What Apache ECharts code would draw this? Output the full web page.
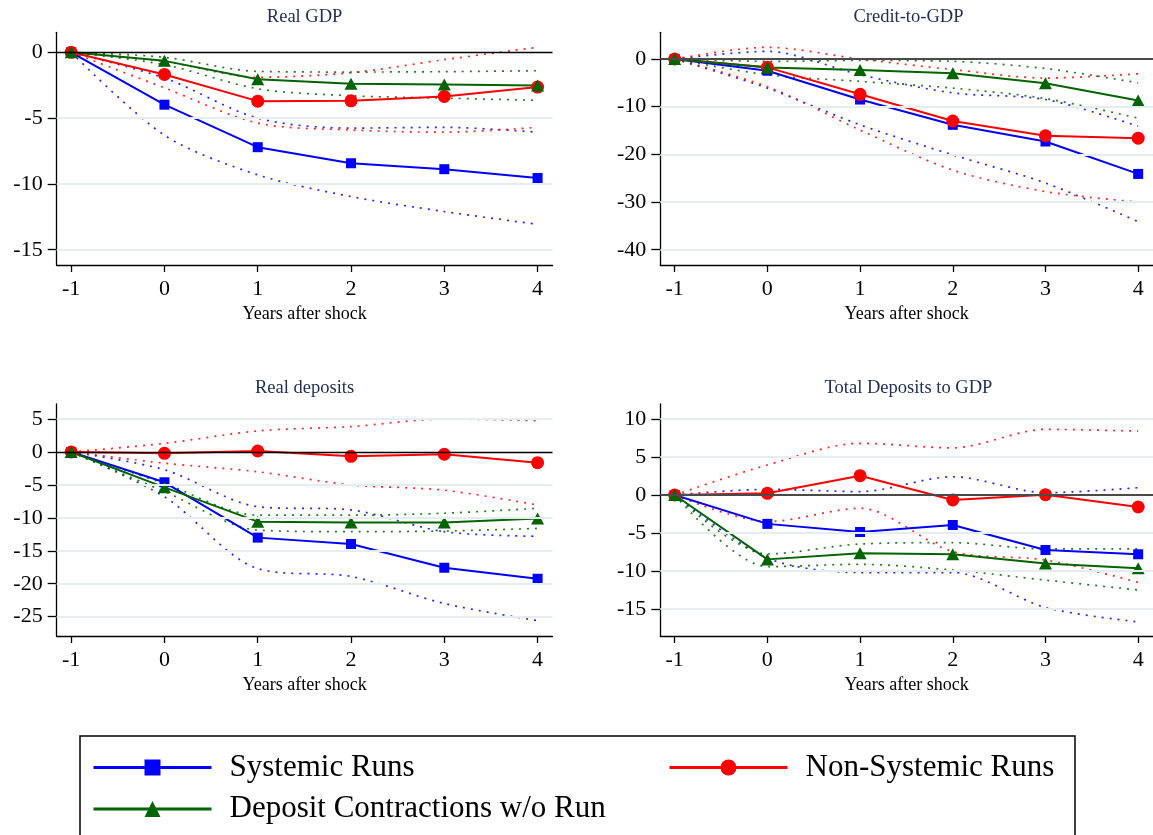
<!DOCTYPE html>
<html>
<head>
<meta charset="utf-8">
<title>Deposit runs: impulse responses</title>
<script src="https://cdn.jsdelivr.net/npm/echarts@6/dist/echarts.min.js"></script>
<style>
  html, body { margin: 0; padding: 0; background: #ffffff; }
  #chart { width: 1153px; height: 835px; }
</style>
</head>
<body>
<div id="chart"></div>
<script>
// Horizon (years relative to the shock)
const years = [-1, 0, 1, 2, 3, 4];

// Real GDP
const gdpSystemic      = [0, -3.98, -7.21, -8.43, -8.88, -9.55];
const gdpSystemicHi    = [0, -1.95, -5.00, -5.76, -5.70, -6.07];
const gdpSystemicLo    = [0, -6.30, -9.31, -10.96, -12.10, -13.07];
const gdpNonSystemic   = [0, -1.68, -3.71, -3.69, -3.35, -2.64];
const gdpNonSystemicHi = [0, -0.70, -1.90, -1.55, -0.56, 0.38];
const gdpNonSystemicLo = [0, -2.70, -5.38, -5.90, -6.07, -5.70];
const gdpNoRun         = [0, -0.65, -2.05, -2.38, -2.44, -2.52];
const gdpNoRunHi       = [0, -0.38, -1.45, -1.50, -1.47, -1.40];
const gdpNoRunLo       = [0, -0.94, -2.77, -3.30, -3.48, -3.65];
const gdpTicks = [0, -5, -10, -15];

// Credit-to-GDP
const creditSystemic      = [0, -2.45, -8.50, -13.80, -17.30, -24.10];
const creditSystemicHi    = [0, 1.60, -3.30, -7.10, -8.50, -14.10];
const creditSystemicLo    = [0, -6.10, -13.80, -20.10, -26.00, -34.10];
const creditNonSystemic   = [0, -1.75, -7.40, -13.00, -16.10, -16.60];
const creditNonSystemicHi = [0, 2.45, 0.00, -2.20, -4.00, -3.10];
const creditNonSystemicLo = [0, -5.80, -14.90, -23.30, -27.80, -30.00];
const creditNoRun         = [0, -1.80, -2.30, -3.00, -5.10, -8.70];
const creditNoRunHi       = [0, -0.50, -0.30, -0.50, -2.00, -5.00];
const creditNoRunLo       = [0, -3.30, -4.70, -6.10, -8.30, -12.40];
const creditTicks = [0, -10, -20, -30, -40];

// Real deposits
const depSystemic      = [0, -4.60, -13.00, -13.97, -17.57, -19.24];
const depSystemicHi    = [0, -2.70, -8.30, -8.80, -12.10, -12.80];
const depSystemicLo    = [0, -6.80, -17.70, -18.90, -23.00, -25.60];
const depNonSystemic   = [0, -0.20, 0.15, -0.66, -0.35, -1.62];
const depNonSystemicHi = [0, 1.30, 3.20, 3.85, 5.00, 4.76];
const depNonSystemicLo = [0, -1.70, -3.00, -5.00, -5.80, -8.05];
const depNoRun         = [0, -5.37, -10.58, -10.70, -10.70, -10.08];
const depNoRunHi       = [0, -4.80, -9.60, -9.60, -9.30, -8.55];
const depNoRunLo       = [0, -6.00, -11.85, -12.10, -12.00, -11.60];
const depTicks = [5, 0, -5, -10, -15, -20, -25];

// Total deposits to GDP
const tdgSystemic      = [0, -3.80, -4.87, -3.95, -7.24, -7.80];
const tdgSystemicHi    = [0, 0.75, 0.44, 2.40, 0.30, 0.96];
const tdgSystemicLo    = [0, -8.30, -10.20, -10.20, -14.80, -16.70];
const tdgNonSystemic   = [0, 0.22, 2.54, -0.66, 0.04, -1.58];
const tdgNonSystemicHi = [0, 3.95, 6.80, 6.20, 8.64, 8.40];
const tdgNonSystemicLo = [0, -3.50, -1.75, -7.45, -8.55, -11.50];
const tdgNoRun         = [0, -8.47, -7.67, -7.80, -9.00, -9.65];
const tdgNoRunHi       = [0, -7.76, -6.45, -6.27, -7.10, -7.10];
const tdgNoRunLo       = [0, -9.43, -9.12, -9.87, -11.20, -12.50];
const tdgTicks = [10, 5, 0, -5, -10, -15];

const titles = ['Real GDP', 'Credit-to-GDP', 'Real deposits', 'Total Deposits to GDP'];
const xTitle = 'Years after shock';
const seriesNames = ['Systemic Runs', 'Non-Systemic Runs', 'Deposit Contractions w/o Run'];

const FONT = '"Liberation Serif", "Times New Roman", Times, serif';
const BLUE = '#0000ff', RED = '#ff0000', GREEN = '#006400';

// panel layout: plot boxes and value ranges
const panels = [
  { grid: { left: 56.7, top: 32.3, width: 495.8, height: 232.7 }, yMin: -16.16, yMax: 1.52, ticks: gdpTicks, zero: { color: '#000000', width: 1.3 },
    lines: [[gdpSystemic, gdpSystemicHi, gdpSystemicLo], [gdpNonSystemic, gdpNonSystemicHi, gdpNonSystemicLo], [gdpNoRun, gdpNoRunHi, gdpNoRunLo]] },
  { grid: { left: 660.3, top: 32.3, width: 496.3, height: 232.7 }, yMin: -43.2, yMax: 5.6, ticks: creditTicks, zero: { color: '#4a4a4a', width: 2 },
    lines: [[creditSystemic, creditSystemicHi, creditSystemicLo], [creditNonSystemic, creditNonSystemicHi, creditNonSystemicLo], [creditNoRun, creditNoRunHi, creditNoRunLo]] },
  { grid: { left: 56.7, top: 404, width: 495.8, height: 232 }, yMin: -27.93, yMax: 7.28, ticks: depTicks, zero: { color: '#000000', width: 1.3 },
    lines: [[depSystemic, depSystemicHi, depSystemicLo], [depNonSystemic, depNonSystemicHi, depNonSystemicLo], [depNoRun, depNoRunHi, depNoRunLo]] },
  { grid: { left: 660.3, top: 404, width: 496.3, height: 232 }, yMin: -18.55, yMax: 11.97, ticks: tdgTicks, zero: { color: '#4a4a4a', width: 2 },
    lines: [[tdgSystemic, tdgSystemicHi, tdgSystemicLo], [tdgNonSystemic, tdgNonSystemicHi, tdgNonSystemicLo], [tdgNoRun, tdgNoRunHi, tdgNoRunLo]] }
];

const styles = [
  { color: BLUE, symbol: 'rect', size: 10 },
  { color: RED, symbol: 'circle', size: 13 },
  { color: GREEN, symbol: 'triangle', size: [13, 12] }
];

const pairs = vals => years.map((x, k) => [x, vals[k]]);

const grids = [], xAxes = [], yAxes = [], series = [], graphics = [];

panels.forEach((p, i) => {
  grids.push(p.grid);
  xAxes.push({
    type: 'value', gridIndex: i, min: -1.155, max: 4.16,
    name: xTitle, nameLocation: 'middle', nameGap: 40,
    nameTextStyle: { fontFamily: FONT, fontSize: 18, color: '#000' },
    axisLine: { onZero: false, lineStyle: { color: '#000', width: 1.3 } },
    axisTick: { length: 7, customValues: years, lineStyle: { color: '#000', width: 1.3 } },
    axisLabel: { customValues: years, margin: 13, fontFamily: FONT, fontSize: 22, color: '#000' },
    splitLine: { show: false }
  });
  yAxes.push({
    type: 'value', gridIndex: i, min: p.yMin, max: p.yMax,
    axisLine: { show: true, onZero: false, lineStyle: { color: '#000', width: 1.3 } },
    axisTick: { show: true, length: 9, customValues: p.ticks, lineStyle: { color: '#000', width: 1.3 } },
    axisLabel: { customValues: p.ticks, margin: 14, fontFamily: FONT, fontSize: 22, color: '#000' },
    splitLine: { show: false }
  });

  // grid lines at the ticks and the reference line at zero
  const refLines = p.ticks.filter(v => v !== 0).map(v => ({ yAxis: v, lineStyle: { color: '#e4edf0', width: 2, type: 'solid' } }));
  refLines.push({ yAxis: 0, lineStyle: { color: p.zero.color, width: p.zero.width, type: 'solid' } });
  series.push({
    type: 'line', xAxisIndex: i, yAxisIndex: i, data: [], silent: true, z: 1,
    markLine: { silent: true, symbol: 'none', label: { show: false }, animation: false, data: refLines }
  });

  // confidence bands (dotted)
  p.lines.forEach((set, s) => {
    [1, 2].forEach(b => {
      series.push({
        name: seriesNames[s] + (b === 1 ? ' upper' : ' lower'),
        type: 'line', xAxisIndex: i, yAxisIndex: i, data: pairs(set[b]),
        symbol: 'none', smooth: 0.3, silent: true, z: 2,
        lineStyle: { color: styles[s].color, width: 1.7, type: [2, 6], opacity: 0.85 }
      });
    });
  });

  // point estimates
  p.lines.forEach((set, s) => {
    series.push({
      name: seriesNames[s],
      type: 'line', xAxisIndex: i, yAxisIndex: i, data: pairs(set[0]),
      symbol: styles[s].symbol, symbolSize: styles[s].size, z: 4,
      itemStyle: { color: styles[s].color },
      lineStyle: { color: styles[s].color, width: 2 }
    });
  });

  graphics.push({
    type: 'text', x: p.grid.left + p.grid.width / 2, y: p.grid.top - 15.5,
    style: { text: titles[i], font: '18.5px ' + FONT, fill: '#1f2d50', align: 'center', verticalAlign: 'middle' }
  });
});

// legend frame
graphics.push({
  type: 'rect', shape: { x: 80, y: 736, width: 995, height: 130 },
  style: { fill: 'none', stroke: '#000', lineWidth: 1.5 }
});

const legendCommon = {
  orient: 'vertical', itemWidth: 118, itemHeight: 20, itemGap: 5.6,
  textStyle: { fontFamily: FONT, fontSize: 31, color: '#000', lineHeight: 36, padding: [0, 0, 0, 13] },
  lineStyle: { width: 3 }, selectedMode: false, padding: 0
};

const chart = echarts.init(document.getElementById('chart'), null, { renderer: 'canvas' });
chart.setOption({
  animation: false,
  backgroundColor: '#ffffff',
  grid: grids,
  xAxis: xAxes,
  yAxis: yAxes,
  legend: [
    Object.assign({ left: 92, top: 749.5, data: [seriesNames[0], seriesNames[2]] }, legendCommon),
    Object.assign({ left: 668, top: 749.5, data: [seriesNames[1]] }, legendCommon)
  ],
  graphic: graphics,
  series: series
});
</script>
</body>
</html>
